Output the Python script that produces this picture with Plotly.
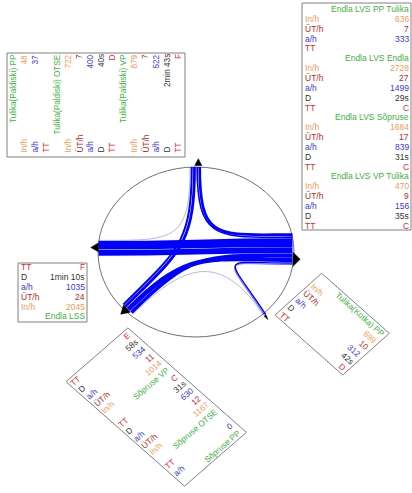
import math
import plotly.graph_objects as go

# ------------------------------------------------------------------ data
# turning movements through the junction (a/h = vehicles per hour)
flow_from = ["N", "N", "N", "E", "E", "E", "E", "W", "SW", "SW", "SW", "SE"]
flow_to   = ["W", "SW", "E", "N", "W", "SW", "SE", "E", "N", "E", "SE", "E"]
flow_ah   = [37, 400, 522, 333, 1499, 839, 156, 1035, 534, 630, 0, 312]

# text panels
tulika_paldiski_titles = ["Tulika(Paldiski) PP", "Tulika(Paldiski) OTSE", "Tulika(Paldiski) VP"]
tulika_paldiski_labels = [["In/h", "a/h", "TT"],
                          ["In/h", "ÜT/h", "a/h", "D", "TT"],
                          ["In/h", "ÜT/h", "a/h", "D", "TT"]]
tulika_paldiski_values = [["48", "37", ""],
                          ["722", "7", "400", "40s", "D"],
                          ["879", "7", "522", "2min 43s", "F"]]

endla_lvs_titles = ["Endla LVS PP Tulika", "Endla LVS Endla", "Endla LVS Sõpruse", "Endla LVS VP Tulika"]
endla_lvs_labels = [["In/h", "ÜT/h", "a/h", "TT"],
                    ["In/h", "ÜT/h", "a/h", "D", "TT"],
                    ["In/h", "ÜT/h", "a/h", "D", "TT"],
                    ["In/h", "ÜT/h", "a/h", "D", "TT"]]
endla_lvs_values = [["636", "7", "333", ""],
                    ["2728", "27", "1499", "29s", "C"],
                    ["1684", "17", "839", "31s", "C"],
                    ["470", "9", "156", "35s", "C"]]

endla_lss_titles = ["Endla LSS"]
endla_lss_labels = [["In/h", "ÜT/h", "a/h", "D", "TT"]]
endla_lss_values = [["2045", "24", "1035", "1min 10s", "F"]]

sopruse_titles = ["Sõpruse VP", "Sõpruse OTSE", "Sõpruse PP"]
sopruse_labels = [["In/h", "ÜT/h", "a/h", "D", "TT"],
                  ["In/h", "ÜT/h", "a/h", "D", "TT"],
                  ["a/h", "TT"]]
sopruse_values = [["1014", "11", "534", "58s", "E"],
                  ["1167", "12", "630", "31s", "C"],
                  ["0", ""]]

kotka_titles = ["Tulika(Kotka) PP"]
kotka_labels = [["In/h", "ÜT/h", "a/h", "D", "TT"]]
kotka_values = [["699", "10", "312", "42s", "D"]]

# ------------------------------------------------------------------ style / layout
W_PX, H_PX = 412, 493
FONT = "Liberation Sans, Arial, sans-serif"
TITLE_COLOR = "#3db23d"
ROW_COLORS = {"In/h": "#f39a55", "ÜT/h": "#b52a2a", "a/h": "#3a3ad8", "D": "#333333", "TT": "#e62a2a"}
BAND_COLOR = "rgb(0,0,255)"
FAINT_COLOR = "rgba(90,90,230,0.45)"
WIDTH_SCALE = 0.006   # px per vehicle/h

# junction ellipse (pixel space)
ELLIPSE = dict(x0=98, x1=294, y0=167, y1=337)

# approach geometry: band centre, inward direction, stacking direction
approaches = {
    "N":  dict(c=(195.5, 167.0), d=(0.0, 1.0), lat=(1.0, 0.0)),
    "E":  dict(c=(292.5, 249.0), d=(-1.0, 0.0), lat=(0.0, 1.0)),
    "W":  dict(c=(98.5, 248.0), d=(1.0, 0.0), lat=(0.0, 1.0)),
    "SW": dict(c=(128.0, 309.0), d=(0.707, -0.707), lat=(0.707, 0.707)),
    "SE": dict(c=(265.0, 315.0), d=(-0.55, -0.835), lat=(0.835, -0.55)),
}
stack_order = {
    "N":  [("N", "W"), ("N", "SW"), ("SW", "N"), ("E", "N"), ("N", "E")],
    "E":  [("N", "E"), ("E", "N"), ("E", "W"), ("W", "E"), ("SW", "E"), ("E", "SW"), ("SE", "E"), ("E", "SE")],
    "W":  [("N", "W"), ("E", "W"), ("W", "E")],
    "SW": [("N", "SW"), ("SW", "N"), ("E", "SW"), ("SW", "E"), ("SW", "SE")],
    "SE": [("SW", "SE"), ("E", "SE"), ("SE", "E")],
}
arrows = {
    "N":  dict(base=(198.3, 165.5), out=(0.0, -1.0), length=6.8, half=3.6),
    "E":  dict(base=(293.0, 259.3), out=(1.0, 0.0), length=7.2, half=7.0),
    "W":  dict(base=(98.3, 247.4), out=(-1.0, 0.0), length=7.6, half=4.4),
    "SW": dict(base=(127.0, 308.5), out=(-0.74, 0.67), length=8.5, half=5.0),
    "SE": dict(base=(265.0, 315.5), out=(0.6, 0.8), length=5.0, half=1.2),
}

# panel geometry: O = origin of first row's left edge, u = reading dir, v = row dir
panels = [
    dict(titles=tulika_paldiski_titles, labels=tulika_paldiski_labels, values=tulika_paldiski_values,
         rev=False, O=(7, 157), u=(0, -1), v=(1, 0), W=104, H=178, r0=6, sp=11,
         pl=4.5, pr=1.5, angle=-90, fs=8.2),
    dict(titles=endla_lvs_titles, labels=endla_lvs_labels, values=endla_lvs_values,
         rev=False, O=(302, 3), u=(1, 0), v=(0, 1), W=109, H=227, r0=6, sp=9.85,
         pl=3, pr=2, angle=0, fs=8.5),
    dict(titles=endla_lss_titles, labels=endla_lss_labels, values=endla_lss_values,
         rev=True, O=(18, 263), u=(1, 0), v=(0, 1), W=69, H=59, r0=4.3, sp=9.8,
         pl=2.5, pr=2, angle=0, fs=8.5),
    dict(titles=sopruse_titles, labels=sopruse_labels, values=sopruse_values,
         rev=True, O=(66, 381.7), u=(0.755, -0.656), v=(0.750, 0.661), W=82, H=158, r0=5.3, sp=10.53,
         pl=2, pr=4, angle=-41, fs=8.3),
    dict(titles=kotka_titles, labels=kotka_labels, values=kotka_values,
         rev=False, O=(321.6, 273.3), u=(0.748, 0.663), v=(-0.745, 0.667), W=90.5, H=62.5, r0=5.2, sp=10.4,
         pl=3, pr=3.5, angle=41.5, fs=8.3),
]

# ------------------------------------------------------------------ helpers
def add(p, q, k=1.0):
    return (p[0] + q[0] * k, p[1] + q[1] * k)


def disp_width(ah):
    return max(ah * WIDTH_SCALE, 0.8)


shapes = []
annotations = []

# ellipse
shapes.append(dict(type="circle", xref="x", yref="y", line=dict(color="#707070", width=1),
                   fillcolor="rgba(0,0,0,0)", layer="below", **ELLIPSE))

# lateral offsets
flow_w = {(f, t): disp_width(a) for f, t, a in zip(flow_from, flow_to, flow_ah)}
offsets = {}
for ap, lst in stack_order.items():
    total = sum(flow_w[k] for k in lst)
    pos = -total / 2
    for k in lst:
        offsets[(ap, k)] = pos + flow_w[k] / 2
        pos += flow_w[k]

# flows (thick first)
flow_idx = sorted(range(len(flow_ah)), key=lambda i: -flow_ah[i])
for i in flow_idx:
    f, t, ah = flow_from[i], flow_to[i], flow_ah[i]
    key = (f, t)
    A, B = approaches[f], approaches[t]
    p0 = add(A["c"], A["lat"], offsets[(f, key)])
    p3 = add(B["c"], B["lat"], offsets[(t, key)])
    dist = math.hypot(p3[0] - p0[0], p3[1] - p0[1])
    L = max(0.5 * dist, 75)
    p1 = add(p0, A["d"], L)
    p2 = add(p3, B["d"], L)
    path = "M {:.2f},{:.2f} C {:.2f},{:.2f} {:.2f},{:.2f} {:.2f},{:.2f}".format(*p0, *p1, *p2, *p3)
    w = ah * WIDTH_SCALE
    if w < 0.6:
        line = dict(color=FAINT_COLOR, width=1)
    else:
        line = dict(color=BAND_COLOR, width=max(w - 0.4, 0.6))
    shapes.append(dict(type="path", xref="x", yref="y", path=path, line=line,
                       fillcolor="rgba(0,0,0,0)", layer="above"))

# arrows
for ap, a in arrows.items():
    b, o = a["base"], a["out"]
    perp = (-o[1], o[0])
    tip = add(b, o, a["length"])
    c1 = add(b, perp, a["half"])
    c2 = add(b, perp, -a["half"])
    path = "M {:.2f},{:.2f} L {:.2f},{:.2f} L {:.2f},{:.2f} Z".format(*tip, *c1, *c2)
    shapes.append(dict(type="path", xref="x", yref="y", path=path,
                       line=dict(color="black", width=0.5), fillcolor="black", layer="above"))


def text_anchor(P, theta, mode, h):
    th = math.radians(theta)
    ux, uy = math.cos(th), math.sin(th)
    nx, ny = -math.sin(th), math.cos(th)
    eps = 1e-6
    sgn = 1 if mode == "start" else -1
    ex, ey = ux * sgn, uy * sgn   # direction in which text extends from P
    if ex > eps:
        xa, x = "left", P[0] - h * abs(nx)
    elif ex < -eps:
        xa, x = "right", P[0] + h * abs(nx)
    else:
        xa, x = "center", P[0]
    if ey > eps:
        ya, y = "top", P[1] - h * abs(ny)
    elif ey < -eps:
        ya, y = "bottom", P[1] + h * abs(ny)
    else:
        ya, y = "middle", P[1]
    return x, y, xa, ya


def add_text(txt, P, theta, mode, color, fs):
    h = 1.25 * fs / 2
    x, y, xa, ya = text_anchor(P, theta, mode, h)
    annotations.append(dict(text=txt, x=x, y=y, xref="x", yref="y", xanchor=xa, yanchor=ya,
                            showarrow=False, textangle=theta, borderpad=0, borderwidth=0,
                            font=dict(family=FONT, size=fs, color=color)))


for pn in panels:
    O, u, v, Wb, Hb = pn["O"], pn["u"], pn["v"], pn["W"], pn["H"]
    c1 = add(O, u, Wb)
    c2 = add(c1, v, Hb)
    c3 = add(O, v, Hb)
    path = "M {:.2f},{:.2f} L {:.2f},{:.2f} L {:.2f},{:.2f} L {:.2f},{:.2f} Z".format(*O, *c1, *c2, *c3)
    shapes.append(dict(type="path", xref="x", yref="y", path=path,
                       line=dict(color="#808080", width=1), fillcolor="rgba(0,0,0,0)", layer="above"))
    rows = []
    for title, labs, vals in zip(pn["titles"], pn["labels"], pn["values"]):
        grp = [(title, None, "title")] + [(l, val, "row") for l, val in zip(labs, vals)]
        if pn["rev"]:
            grp = grp[::-1]
        rows += grp
    for i, (lab, val, kind) in enumerate(rows):
        base = add(O, v, pn["r0"] + i * pn["sp"])
        endp = add(base, u, Wb - pn["pr"])
        if kind == "title":
            add_text(lab, endp, pn["angle"], "end", TITLE_COLOR, pn["fs"])
        else:
            col = ROW_COLORS[lab]
            add_text(lab, add(base, u, pn["pl"]), pn["angle"], "start", col, pn["fs"])
            if val:
                add_text(val, endp, pn["angle"], "end", col, pn["fs"])

fig = go.Figure()
fig.update_layout(
    width=W_PX, height=H_PX, autosize=False,
    margin=dict(l=0, r=0, t=0, b=0),
    paper_bgcolor="white", plot_bgcolor="white",
    xaxis=dict(range=[0, W_PX], visible=False, fixedrange=True),
    yaxis=dict(range=[H_PX, 0], visible=False, fixedrange=True),
    shapes=shapes, annotations=annotations, showlegend=False,
)
fig.write_html("out.html", config={"displayModeBar": False},
               post_script="document.body.style.margin='0px';document.body.style.padding='0px';")
